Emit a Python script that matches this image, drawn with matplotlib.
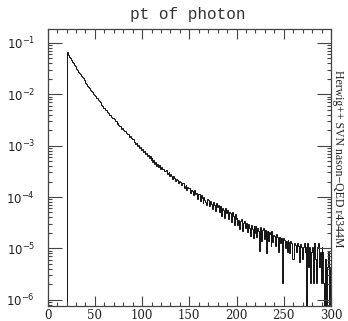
import numpy as np
import matplotlib
matplotlib.use("Agg")
import matplotlib.pyplot as plt
from matplotlib.ticker import MultipleLocator, LogLocator, NullFormatter, FixedLocator

# pt of photon, 1 GeV bins from 20 to 300, log10 of bin content (None = empty bin)
pt_lo = 20
pt_hi = 300
log_vals = [
    -1.17, -1.20, -1.24, -1.27, -1.30, -1.33, -1.37, -1.40, -1.43, -1.46,
    -1.50, -1.53, -1.56, -1.59, -1.61, -1.64, -1.67, -1.69, -1.72, -1.75,
    -1.78, -1.80, -1.83, -1.86, -1.88, -1.91, -1.94, -1.96, -1.99, -2.02,
    -2.04, -2.07, -2.08, -2.12, -2.13, -2.15, -2.19, -2.20, -2.22, -2.26,
    -2.27, -2.31, -2.31, -2.35, -2.36, -2.40, -2.40, -2.44, -2.47, -2.47,
    -2.49, -2.53, -2.53, -2.57, -2.56, -2.60, -2.61, -2.62, -2.67, -2.66,
    -2.69, -2.72, -2.72, -2.76, -2.77, -2.78, -2.83, -2.81, -2.86, -2.87,
    -2.88, -2.93, -2.92, -2.97, -2.95, -3.00, -2.99, -3.04, -3.03, -3.08,
    -3.07, -3.12, -3.10, -3.16, -3.14, -3.20, -3.18, -3.24, -3.21, -3.27,
    -3.25, -3.31, -3.28, -3.35, -3.31, -3.39, -3.35, -3.42, -3.37, -3.45,
    -3.42, -3.46, -3.45, -3.49, -3.50, -3.48, -3.55, -3.53, -3.52, -3.59,
    -3.56, -3.60, -3.64, -3.59, -3.63, -3.69, -3.65, -3.66, -3.73, -3.68,
    -3.70, -3.77, -3.73, -3.72, -3.83, -3.78, -3.77, -3.87, -3.80, -3.82,
    -3.83, -3.93, -3.86, -3.88, -3.97, -3.86, -3.94, -3.92, -4.03, -3.94,
    -3.95, -4.07, -3.97, -4.01, -4.12, -3.99, -4.05, -4.10, -4.16, -4.03,
    -4.06, -4.18, -4.08, -4.13, -4.24, -4.09, -4.15, -4.27, -4.12, -4.19,
    -4.15, -4.29, -4.19, -4.17, -4.36, -4.21, -4.25, -4.40, -4.22, -4.31,
    -4.26, -4.42, -4.29, -4.32, -4.48, -4.30, -4.36, -4.55, -4.33, -4.43,
    -4.40, -4.55, -4.44, -4.62, -4.47, -4.42, -4.66, -4.50, -4.46, -4.60,
    -4.50, -4.68, -4.53, -4.60, -4.75, -4.55, -4.62, -4.80, -4.56, -4.70,
    -4.57, -4.78, -4.60, -4.66, -5.05, -4.58, -4.85, -4.64, -4.60, -4.82,
    -4.64, -5.09, -4.66, -4.85, -4.68, -4.72, -4.95, -4.67, -4.88, -4.74,
    -4.76, -4.95, -4.72, -4.78, -5.07, -4.77, -4.90, -4.80, -5.67, -4.79,
    -4.83, -5.00, -4.85, -5.07, -4.84, -4.88, -5.09, -4.86, -4.90, -5.20,
    -5.20, -4.90, -4.93, -5.07, -4.90, -4.95, -5.26, -4.92, -4.97, -5.20,
    -4.97, -4.90, -5.07, -4.97, None, -4.90, -5.37, -4.97, -5.67, -5.07,
    -4.97, -5.67, -4.90, -5.20, -5.67, -4.97, -4.90, -5.37, -5.07, -5.67,
    -4.97, -5.07, -5.67, None, -5.20, None, -5.37, -5.07, None, -5.37,
]
x_ticks = [0, 50, 100, 150, 200, 250, 300]
y_decades = [-6, -5, -4, -3, -2, -1]
title = "pt of photon"
side_label = "Herwig++ SVN nason\u2212QED r4344M"

edges = np.arange(pt_lo, pt_hi + 1)
vals = np.array([10.0 ** v if v is not None else 1e-12 for v in log_vals])

fig = plt.figure(figsize=(3.48, 3.21), dpi=100)
ax = fig.add_axes([0.137, 0.047, 0.814, 0.863])

ax.stairs(vals, edges, baseline=1e-12, color="#111111", lw=0.7)

ax.set_yscale("log")
ax.set_xlim(0, 300)
ax.set_ylim(7.6e-7, 0.187)

frame_col = "#444444"
for s in ax.spines.values():
    s.set_color(frame_col)
    s.set_linewidth(0.9)

ax.xaxis.set_major_locator(FixedLocator(x_ticks))
ax.xaxis.set_minor_locator(MultipleLocator(10))
ax.yaxis.set_major_locator(FixedLocator([10.0 ** d for d in y_decades]))
ax.yaxis.set_minor_locator(LogLocator(base=10, subs=np.arange(2, 10)))
ax.yaxis.set_minor_formatter(NullFormatter())
ax.set_xticklabels([str(t) for t in x_ticks])
ax.set_yticklabels([r"$10^{%d}$" % d for d in y_decades])

ax.tick_params(which="both", direction="in", top=True, right=True,
               color=frame_col, width=0.8, labelcolor="#222222")
ax.tick_params(axis="x", which="major", length=7, labelsize=8.5, pad=2)
ax.tick_params(axis="x", which="minor", length=3)
ax.tick_params(axis="y", which="major", length=10, labelsize=8.5, pad=9)
ax.tick_params(axis="y", which="minor", length=3)
for lab in ax.get_xticklabels():
    lab.set_family("DejaVu Serif")

fig.text(0.54, 0.955, title, ha="center", va="center",
         family="Liberation Mono", fontsize=11.5, color="#333333")
fig.text(0.971, 0.506, side_label, rotation=-90, ha="center", va="center",
         family="Liberation Serif", fontsize=8.5, color="#222222")

fig.savefig("out.png", dpi=100)
